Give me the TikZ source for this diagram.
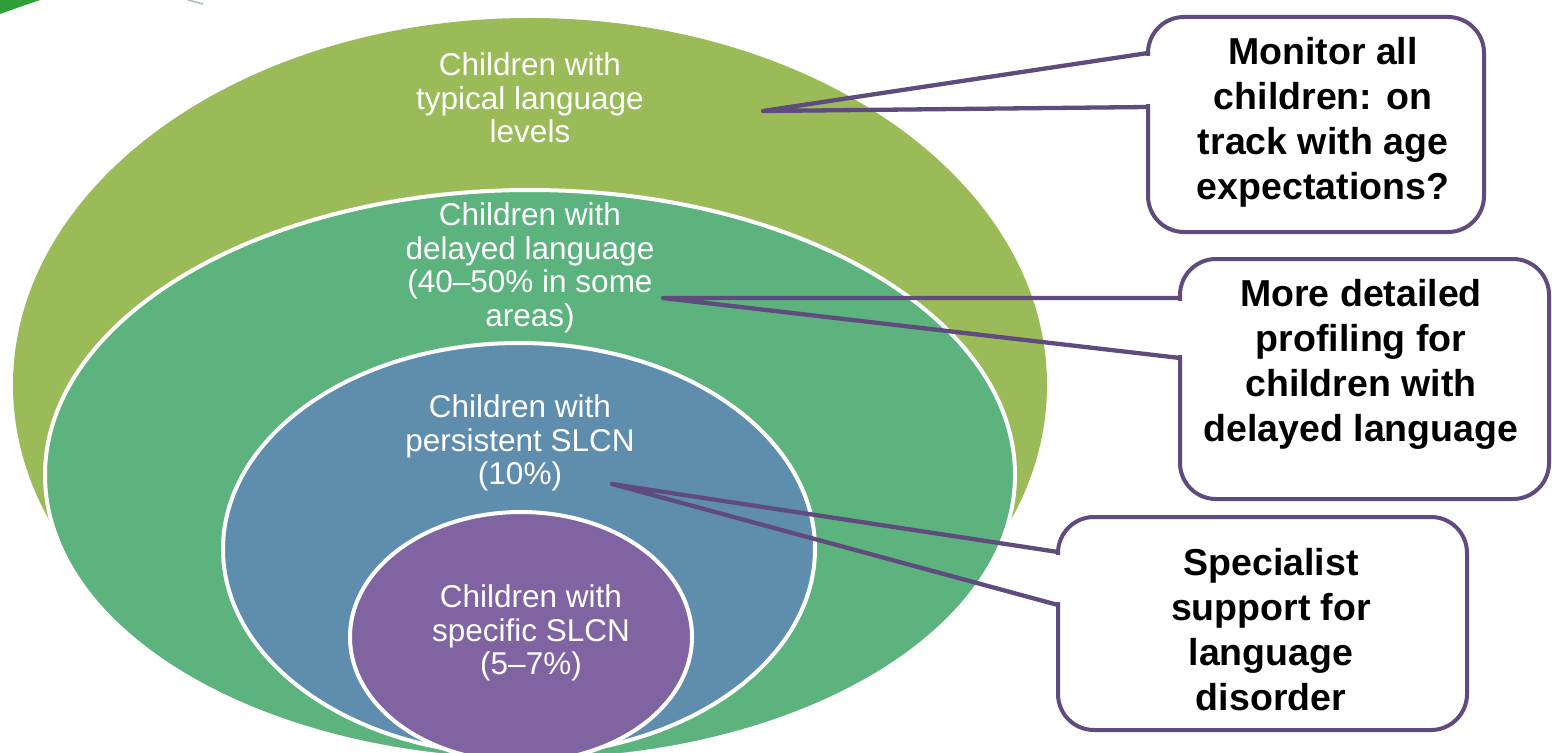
\documentclass[tikz,border=0pt]{standalone}
\usepackage{fontspec}
\setmainfont{Liberation Sans}
\usetikzlibrary{calc}
\definecolor{olivec}{HTML}{9BBB59}
\definecolor{greenc}{HTML}{5CB37E}
\definecolor{bluec}{HTML}{5F8DAE}
\definecolor{purplec}{HTML}{8064A2}
\definecolor{linec}{HTML}{5F4B7E}
\definecolor{leafc}{HTML}{2E9E36}
\definecolor{streakc}{HTML}{A9C4A9}
\begin{document}
\begin{tikzpicture}[x=1pt,y=-1pt,
  ring/.style={draw=white,line width=4pt},
  elabel/.style={text=white,align=center,inner sep=0pt,font=\fontsize{31.5}{33.5}\selectfont},
  callbox/.style={draw=linec,fill=white,line width=4pt,rounded corners=36pt,outer sep=0pt,inner sep=0pt},
  calltext/.style={align=center,inner sep=0pt,font=\fontsize{37.5}{45}\selectfont\bfseries},
  pointer/.style={draw=linec,line width=4.3pt,line join=round,line cap=round},
  cover/.style={draw=white,line width=5.5pt}]
\useasboundingbox (0,0) rectangle (1552,752);
\clip (0,0) rectangle (1552,752);
\fill[white] (0,0) rectangle (1552,752);
% cropped logo leaf
\fill[leafc] (0,14) .. controls (14,9) and (28,4) .. (40,0) -- (0,0) -- cycle;
\draw[streakc,line width=1.5pt,line cap=round] (188,0) -- (203,4);
% nested ellipses
\fill[olivec] (530,385) ellipse [x radius=517, y radius=367];
\filldraw[fill=greenc,ring] (530,475) ellipse [x radius=485, y radius=285];
\filldraw[fill=bluec,ring] (519,549) ellipse [x radius=296, y radius=206];
\filldraw[fill=purplec,ring] (521,637) ellipse [x radius=171, y radius=125];
% ellipse labels
\node[elabel] (l1) at (530,98) {Children with\\typical language\\levels};
\node[elabel] (l2) at (530,268) {Children with\\delayed language\\(40–50\% in some\\areas)};
\node[elabel] (l3) at (520,443) {Children with\\persistent SLCN\\(10\%)};
\node[elabel] (l4) at (531,633) {Children with\\specific SLCN\\(5–7\%)};
% callout boxes
\node[callbox,minimum width=336pt,minimum height=215pt] (b1) at (1316,124.5) {};
\node[callbox,minimum width=369pt,minimum height=240pt] (b2) at (1364.5,379) {};
\node[callbox,minimum width=409pt,minimum height=213pt] (b3) at (1262.5,623.5) {};
% pointer tips and attach points
\coordinate (p1) at (763,111);
\coordinate (p2) at (663,298);
\coordinate (p3) at (612,484);
\coordinate (b1u) at (b1.west |- 0,53);
\coordinate (b1l) at (b1.west |- 0,107);
\coordinate (b2u) at (b2.west |- 0,298);
\coordinate (b2l) at (b2.west |- 0,358);
\coordinate (b3u) at (b3.west |- 0,552);
\coordinate (b3l) at (b3.west |- 0,605);
\draw[cover] ($(b1u)+(0,3)$) -- ($(b1l)+(0,-3)$);
\draw[cover] ($(b2u)+(0,3)$) -- ($(b2l)+(0,-3)$);
\draw[cover] ($(b3u)+(0,3)$) -- ($(b3l)+(0,-3)$);
\draw[pointer] (b1u) -- (p1) -- (b1l);
\draw[pointer] (b2u) -- (p2) -- (b2l);
\draw[pointer] (b3u) -- (p3) -- (b3l);
% callout texts
\node[calltext] (t1) at (1323,122) {Monitor all\\children: on\\track with age\\expectations?};
\node[calltext] (t2) at (1361,364) {More detailed\\profiling for\\children with\\delayed language};
\node[calltext] (t3) at (1271,630) {Specialist\\support for\\language\\disorder};
\end{tikzpicture}
\end{document}
